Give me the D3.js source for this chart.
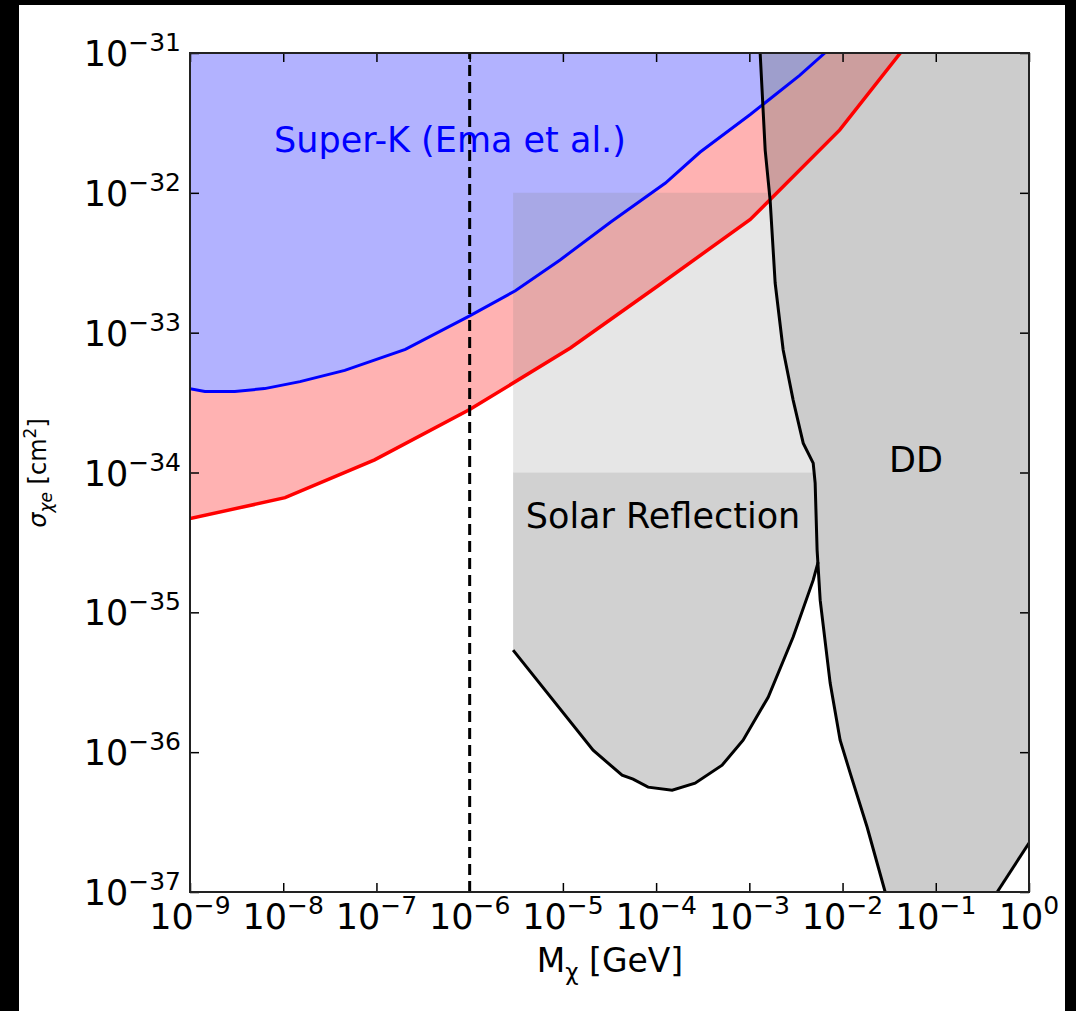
<!DOCTYPE html>
<html>
<head>
<meta charset="utf-8">
<script src="https://cdn.jsdelivr.net/npm/d3@7"></script>
<style>
  body { margin: 0; background: #000; }
  svg { display: block; }
</style>
</head>
<body>
<script>
// all values are log10 of the quantity
var xTicks = [-9, -8, -7, -6, -5, -4, -3, -2, -1, 0];
var yTicks = [-37, -36, -35, -34, -33, -32, -31];

var blueX = [-9.0, -8.84, -8.52, -8.20, -7.82, -7.34, -6.69, -6.0, -5.51, -5.03, -4.49, -3.90, -3.53, -2.99, -2.46, -2.19];
var blueY = [-33.40, -33.42, -33.42, -33.40, -33.35, -33.27, -33.12, -32.88, -32.70, -32.48, -32.21, -31.93, -31.71, -31.44, -31.16, -31.0];

var redX = [-9.0, -7.98, -7.02, -6.0, -4.92, -3.99, -2.99, -2.03, -1.38];
var redY = [-34.33, -34.18, -33.91, -33.55, -33.11, -32.67, -32.19, -31.55, -31.0];

var ddX = [-2.884, -2.830, -2.777, -2.723, -2.637, -2.530, -2.422, -2.315, -2.294, -2.273, -2.240, -2.133, -2.026, -1.918, -1.736, -1.543];
var ddY = [-31.0, -31.694, -32.052, -32.645, -33.124, -33.482, -33.790, -33.933, -34.076, -34.555, -34.913, -35.506, -35.914, -36.150, -36.537, -37.0];

var ddRightX = [-0.341, 0.0];
var ddRightY = [-37.0, -36.65];

var solarX = [-5.534, -4.676, -4.365, -4.247, -4.086, -3.828, -3.582, -3.292, -3.067, -2.798, -2.530, -2.315, -2.262];
var solarY = [-35.270, -35.986, -36.165, -36.193, -36.250, -36.272, -36.222, -36.093, -35.914, -35.607, -35.177, -34.770, -34.641];

var solarBoxX = [-5.534, -2.785];
var solarBoxY = [-32.0, -34.0];

var lightMass = -6;

var width = 1076, height = 1011;
var mLeft = 190, mRight = 1029, mTop = 53, mBottom = 892;

var svg = d3.select("body").append("svg")
    .attr("width", width)
    .attr("height", height)
    .style("font-family", "DejaVu Sans, sans-serif");

svg.append("rect")
    .attr("x", 19).attr("y", 5)
    .attr("width", 1046).attr("height", 1006)
    .attr("fill", "#fff");

var xscale = d3.scaleLog().domain([1e-9, 1]).range([mLeft, mRight]);
var yscale = d3.scaleLog().domain([1e-37, 1e-31]).range([mBottom, mTop]);
var px = function (v) { return xscale(Math.pow(10, v)); };
var py = function (v) { return yscale(Math.pow(10, v)); };

svg.append("clipPath").attr("id", "clip")
    .append("rect")
    .attr("x", mLeft).attr("y", mTop)
    .attr("width", mRight - mLeft).attr("height", mBottom - mTop);

var plot = svg.append("g").attr("clip-path", "url(#clip)");

function pts(xs, ys) {
    return xs.map(function (d, i) { return [px(d), py(ys[i])]; });
}
var line = d3.line();

var bluePts = pts(blueX, blueY);
var redPts = pts(redX, redY);
var ddPts = pts(ddX, ddY);
var ddRightPts = pts(ddRightX, ddRightY);
var solarPts = pts(solarX, solarY);

// Super-K region above blue line
plot.append("path")
    .attr("d", line(bluePts.concat([[px(-9), py(-31)]])) + "Z")
    .attr("fill", "#0000ff").attr("fill-opacity", 0.3);

// red band between red and blue lines
plot.append("path")
    .attr("d", line(redPts.concat(bluePts.slice().reverse())) + "Z")
    .attr("fill", "#ff0000").attr("fill-opacity", 0.3);

// DD region
plot.append("path")
    .attr("d", line(ddPts.concat(ddRightPts, [[px(0), py(-31)]])) + "Z")
    .attr("fill", "#808080").attr("fill-opacity", 0.4);

// solar reflection, upper light box (bounded by DD line)
var boxRight = ddPts.filter(function (d, i) { return ddY[i] < solarBoxY[0] && ddY[i] > solarBoxY[1]; });
var boxPts = [[px(solarBoxX[0]), py(solarBoxY[0])], [px(solarBoxX[1]), py(solarBoxY[0])]]
    .concat(boxRight, [[px(-2.305), py(solarBoxY[1])], [px(solarBoxX[0]), py(solarBoxY[1])]]);
plot.append("path")
    .attr("d", line(boxPts) + "Z")
    .attr("fill", "#808080").attr("fill-opacity", 0.2);

// solar reflection, lower region
var lowerPts = [[px(solarBoxX[0]), py(solarBoxY[1])], [px(-2.305), py(solarBoxY[1])]]
    .concat(ddPts.filter(function (d, i) { return ddY[i] < -34.0 && ddY[i] > solarY[solarY.length - 1]; }))
    .concat(solarPts.slice().reverse());
plot.append("path")
    .attr("d", line(lowerPts) + "Z")
    .attr("fill", "#808080").attr("fill-opacity", 0.36);

// curves
plot.append("path").attr("d", line(bluePts))
    .attr("fill", "none").attr("stroke", "#0000ff").attr("stroke-width", 3);
plot.append("path").attr("d", line(redPts))
    .attr("fill", "none").attr("stroke", "#ff0000").attr("stroke-width", 3.5);
plot.append("path").attr("d", line(ddPts))
    .attr("fill", "none").attr("stroke", "#000").attr("stroke-width", 3);
plot.append("path").attr("d", line(ddRightPts))
    .attr("fill", "none").attr("stroke", "#000").attr("stroke-width", 3);
plot.append("path").attr("d", line(solarPts))
    .attr("fill", "none").attr("stroke", "#000").attr("stroke-width", 3);

plot.append("line")
    .attr("x1", px(lightMass)).attr("x2", px(lightMass))
    .attr("y1", mBottom).attr("y2", mTop)
    .attr("stroke", "#000").attr("stroke-width", 3)
    .attr("stroke-dasharray", "11,6");

// axes with inward ticks
var tickVals = function (a) { return a.map(function (v) { return Math.pow(10, v); }); };

svg.append("g").attr("transform", "translate(0," + mBottom + ")")
    .call(d3.axisTop(xscale).tickValues(tickVals(xTicks)).tickSize(9).tickFormat(""));
svg.append("g").attr("transform", "translate(0," + mTop + ")")
    .call(d3.axisBottom(xscale).tickValues(tickVals(xTicks)).tickSize(9).tickFormat(""));
svg.append("g").attr("transform", "translate(" + mLeft + ",0)")
    .call(d3.axisRight(yscale).tickValues(tickVals(yTicks)).tickSize(9).tickFormat(""));
svg.append("g").attr("transform", "translate(" + mRight + ",0)")
    .call(d3.axisLeft(yscale).tickValues(tickVals(yTicks)).tickSize(9).tickFormat(""));
svg.selectAll(".domain").remove();
svg.selectAll(".tick line").attr("stroke", "#000").attr("stroke-width", 1.5);

svg.append("rect")
    .attr("x", mLeft).attr("y", mTop)
    .attr("width", mRight - mLeft).attr("height", mBottom - mTop)
    .attr("fill", "none").attr("stroke", "#222").attr("stroke-width", 2);

// tick labels
function powLabel(sel, e) {
    sel.append("tspan").text("10");
    sel.append("tspan").text(e < 0 ? "\u2212" + Math.abs(e) : "" + e)
        .attr("font-size", 25).attr("dy", -15);
}

xTicks.forEach(function (e) {
    var t = svg.append("text")
        .attr("x", px(e)).attr("y", 929)
        .attr("text-anchor", "middle")
        .attr("font-size", 35).attr("fill", "#000");
    powLabel(t, e);
});

yTicks.forEach(function (e) {
    var t = svg.append("text")
        .attr("x", 181).attr("y", py(e) + 13)
        .attr("text-anchor", "end")
        .attr("font-size", 35).attr("fill", "#000");
    powLabel(t, e);
});

// axis labels
var xl = svg.append("text")
    .attr("x", 610).attr("y", 972)
    .attr("text-anchor", "middle")
    .attr("font-size", 33).attr("fill", "#000");
xl.append("tspan").text("M");
xl.append("tspan").text("\u03c7").attr("font-size", 23).attr("dy", 8);
xl.append("tspan").text(" [GeV]").attr("dy", -8);

var yl = svg.append("text")
    .attr("transform", "translate(46,473) rotate(-90)")
    .attr("text-anchor", "middle")
    .attr("font-size", 24).attr("fill", "#000");
yl.append("tspan").text("\u03c3").attr("font-style", "italic");
yl.append("tspan").text("\u03c7e").attr("font-size", 17).attr("dy", 6).attr("font-style", "italic");
yl.append("tspan").text(" [cm").attr("dy", -6);
yl.append("tspan").text("2").attr("font-size", 17).attr("dy", -10);
yl.append("tspan").text("]").attr("dy", 10);

// annotations
svg.append("text")
    .attr("x", 450).attr("y", 152)
    .attr("text-anchor", "middle")
    .attr("font-size", 35).attr("fill", "#0000ff")
    .text("Super-K (Ema et al.)");

svg.append("text")
    .attr("x", 663).attr("y", 528)
    .attr("text-anchor", "middle")
    .attr("font-size", 35).attr("fill", "#000")
    .text("Solar Reflection");

svg.append("text")
    .attr("x", 916).attr("y", 472)
    .attr("text-anchor", "middle")
    .attr("font-size", 35).attr("fill", "#000")
    .text("DD");
</script>
</body>
</html>
